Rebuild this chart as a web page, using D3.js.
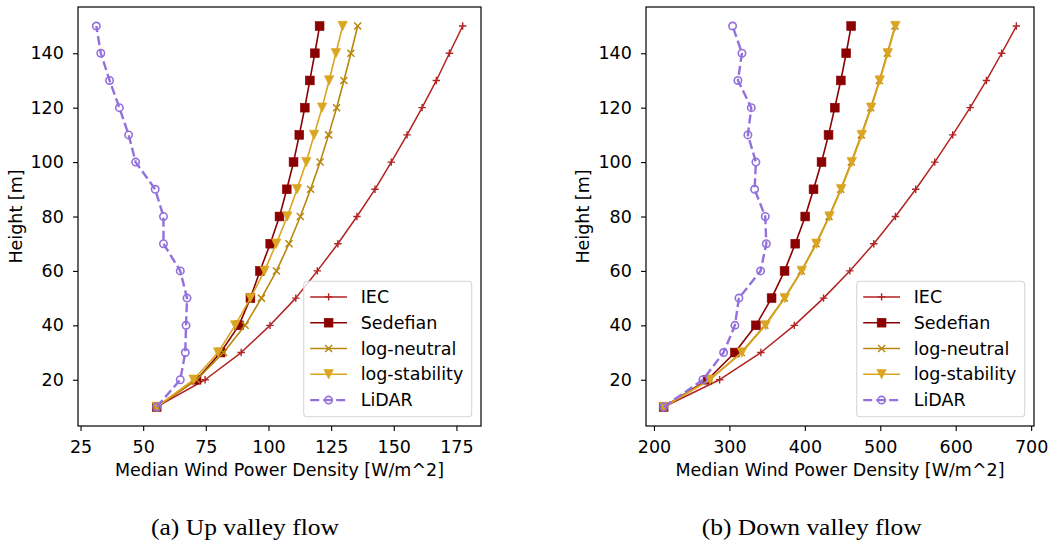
<!DOCTYPE html>
<html><head><meta charset="utf-8">
<script src="https://cdn.jsdelivr.net/npm/d3@7"></script>
<style>
body{margin:0;background:#fff}
svg{display:block}
text{font-family:"DejaVu Sans",sans-serif;fill:#000}
</style>
</head><body>
<svg id="chart" width="1052" height="544"></svg>
<script>
// ---------- data ----------
const heights = [10,20,30,40,50,60,70,80,90,100,110,120,130,140,150];
const seriesNames = ["IEC","Sedefian","log-neutral","log-stability","LiDAR"];

// (a) Up valley flow
const upIEC          = [55.4,74.7,89.1,100.6,110.9,119.5,127.7,135.3,142.5,149.0,155.3,161.3,167.0,172.2,177.5];
const upSedefian     = [55.4,71.3,80.9,88.2,92.8,96.6,100.7,104.4,107.3,110.0,112.3,114.5,116.5,118.5,120.4];
const upLogNeutral   = [55.4,71.3,82.1,90.7,97.2,103.2,108.2,112.7,116.8,120.6,124.0,127.2,130.1,132.9,135.6];
const upLogStability = [55.4,70.1,79.9,86.7,92.8,98.4,103.1,107.5,111.4,115.1,118.2,121.4,124.2,126.9,129.6];
const upLiDAR        = [55.4,64.8,66.8,67.1,67.5,64.8,58.1,58.1,54.8,47.0,44.2,40.5,36.6,33.1,31.3];

// (b) Down valley flow
const downIEC          = [212.8,287.0,341.7,386.0,424.8,459.6,491.4,520.1,547.0,572.2,596.0,619.1,640.7,660.9,680.4];
const downSedefian     = [212.8,271.0,307.3,335.1,355.9,373.1,387.3,400.5,411.5,422.1,431.4,439.7,447.7,454.8,461.4];
const downLogNeutral   = [212.8,273.5,315.8,347.0,372.8,395.3,414.8,432.0,447.5,461.6,474.8,487.3,498.8,509.3,519.5];
const downLogStability = [212.8,274.2,316.6,347.9,373.5,396.0,415.5,432.7,448.2,462.3,475.5,488.0,499.4,510.0,520.1];
const downLiDAR        = [212.8,264.9,292.3,307.3,312.6,341.3,348.9,347.5,333.4,335.1,324.5,329.0,311.3,316.6,304.2];

const upXTicks   = [25,50,75,100,125,150,175];
const downXTicks = [200,300,400,500,600,700];
const yTicks     = [20,40,60,80,100,120,140];
const xLabelText = "Median Wind Power Density [W/m^2]";
const yLabelText = "Height [m]";
const captions   = ["(a) Up valley flow","(b) Down valley flow"];

// ---------- styles ----------
const styles = {
  "IEC":           {color:"#b22222", marker:"plus",   dash:null,      width:1.5},
  "Sedefian":      {color:"#8b0000", marker:"square", dash:null,      width:1.6},
  "log-neutral":   {color:"#b8860b", marker:"x",      dash:null,      width:1.6},
  "log-stability": {color:"#daa520", marker:"tri",    dash:null,      width:1.6},
  "LiDAR":         {color:"#9370db", marker:"circle", dash:"9,4",     width:2.4}
};
const FS = 17.5;

function drawMarker(sel, type, color){
  if(type==="plus"){
    sel.append("path").attr("d","M-3.7,0H3.7M0,-3.7V3.7")
      .attr("stroke",color).attr("stroke-width",1.4).attr("fill","none");
  } else if(type==="square"){
    sel.append("rect").attr("x",-4.4).attr("y",-4.4).attr("width",8.8).attr("height",8.8)
      .attr("fill",color).attr("stroke",color).attr("stroke-width",0.6);
  } else if(type==="x"){
    sel.append("path").attr("d","M-3.5,-3.5L3.5,3.5M-3.5,3.5L3.5,-3.5")
      .attr("stroke",color).attr("stroke-width",1.5).attr("fill","none");
  } else if(type==="tri"){
    sel.append("path").attr("d","M0,4.7L-4.7,-4.7L4.7,-4.7Z")
      .attr("fill",color).attr("stroke",color).attr("stroke-width",0.6);
  } else if(type==="circle"){
    sel.append("circle").attr("r",3.7)
      .attr("fill","none").attr("stroke",color).attr("stroke-width",1.6);
  }
}

const svg = d3.select("#chart");

function drawPanel(cfg){
  const {left,right,top,bottom} = cfg;
  const allVals = cfg.series.flatMap(s=>s.values);
  const mn = d3.min(allVals), mx = d3.max(allVals), pad = (mx-mn)*0.05;
  const x = d3.scaleLinear().domain([mn-pad, mx+pad]).range([left,right]);
  const hmn = d3.min(heights), hmx = d3.max(heights), hpad = (hmx-hmn)*0.05;
  const y = d3.scaleLinear().domain([hmn-hpad, hmx+hpad]).range([bottom,top]);

  const g = svg.append("g");

  // axes
  const xAxis = d3.axisBottom(x).tickValues(cfg.xTicks).tickSize(5).tickPadding(9.2).tickFormat(d3.format("d"));
  const yAxis = d3.axisLeft(y).tickValues(yTicks).tickSize(5).tickPadding(9.2).tickFormat(d3.format("d"));
  const gx = g.append("g").attr("transform",`translate(0,${bottom})`).call(xAxis);
  const gy = g.append("g").attr("transform",`translate(${left},0)`).call(yAxis);
  [gx,gy].forEach(a=>{
    a.select(".domain").remove();
    a.selectAll(".tick line").attr("stroke","#000").attr("stroke-width",1.1);
    a.selectAll(".tick text").attr("font-size",FS).attr("font-family","DejaVu Sans").attr("fill","#000");
  });

  // data
  const line = d3.line().x(d=>x(d[0])).y(d=>y(d[1]));
  cfg.series.forEach(s=>{
    const st = styles[s.name];
    const pts = s.values.map((v,i)=>[v,heights[i]]);
    g.append("path").datum(pts).attr("d",line)
      .attr("fill","none").attr("stroke",st.color).attr("stroke-width",st.width)
      .attr("stroke-dasharray",st.dash).attr("stroke-linejoin","round");
    pts.forEach(p=>{
      const m = g.append("g").attr("transform",`translate(${x(p[0])},${y(p[1])})`);
      drawMarker(m, st.marker, st.color);
    });
  });

  // frame
  g.append("rect").attr("x",left).attr("y",top).attr("width",right-left).attr("height",bottom-top)
    .attr("fill","none").attr("stroke","#000").attr("stroke-width",1.2);

  // legend
  const lw = 168, lh = 135.5;
  const lx = right - 9.3 - lw, ly = bottom - 9.3 - lh;
  const lg = g.append("g");
  lg.append("rect").attr("x",lx).attr("y",ly).attr("width",lw).attr("height",lh)
    .attr("rx",3.5).attr("fill","#fff").attr("fill-opacity",0.8)
    .attr("stroke","#d6d6d6").attr("stroke-width",1.1);
  seriesNames.forEach((name,i)=>{
    const st = styles[name];
    const ry = ly + 15.7 + i*25.8;
    lg.append("line").attr("x1",lx+6.5).attr("x2",lx+43.3).attr("y1",ry).attr("y2",ry)
      .attr("stroke",st.color).attr("stroke-width",st.width).attr("stroke-dasharray",st.dash);
    drawMarker(lg.append("g").attr("transform",`translate(${lx+24.9},${ry})`), st.marker, st.color);
    lg.append("text").attr("x",lx+57).attr("y",ry).attr("dy","0.35em")
      .attr("font-size",FS).text(name);
  });

  // labels
  g.append("text").attr("x",(left+right)/2).attr("y",bottom+50)
    .attr("text-anchor","middle").attr("font-size",FS).text(xLabelText);
  g.append("text").attr("transform",`translate(${cfg.yLabelX},${(top+bottom)/2}) rotate(-90)`)
    .attr("text-anchor","middle").attr("font-size",FS).text(yLabelText);

  // caption
  g.append("text").attr("x",cfg.captionX).attr("y",535).attr("text-anchor","middle")
    .style("font-family","'Liberation Serif',serif")
    .attr("font-size",24).attr("textLength",cfg.captionW).attr("lengthAdjust","spacingAndGlyphs")
    .text(cfg.caption);
}

drawPanel({
  left:78, right:481, top:7, bottom:426,
  xTicks: upXTicks,
  series:[
    {name:"IEC", values:upIEC},
    {name:"Sedefian", values:upSedefian},
    {name:"log-neutral", values:upLogNeutral},
    {name:"log-stability", values:upLogStability},
    {name:"LiDAR", values:upLiDAR}
  ],
  yLabelX: 22, caption: captions[0], captionX: 245, captionW: 188
});

drawPanel({
  left:646, right:1034, top:7, bottom:426,
  xTicks: downXTicks,
  series:[
    {name:"IEC", values:downIEC},
    {name:"Sedefian", values:downSedefian},
    {name:"log-neutral", values:downLogNeutral},
    {name:"log-stability", values:downLogStability},
    {name:"LiDAR", values:downLiDAR}
  ],
  yLabelX: 589, caption: captions[1], captionX: 811.7, captionW: 220
});
</script>
</body></html>
